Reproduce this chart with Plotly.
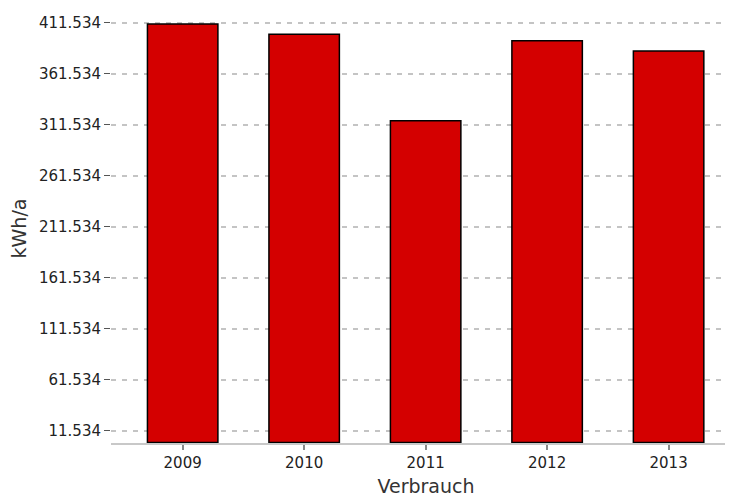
import plotly.graph_objects as go

years = ["2009", "2010", "2011", "2012", "2013"]
verbrauch = [410300, 400200, 315400, 393900, 383800]
tick_vals = [11534, 61534, 111534, 161534, 211534, 261534, 311534, 361534, 411534]

fig = go.Figure()
fig.add_trace(go.Bar(
    x=years, y=verbrauch,
    marker=dict(color="#d40000", line=dict(color="#000000", width=1.5)),
    width=0.58,
))

fig.update_layout(
    width=733, height=501,
    margin=dict(l=103, r=0, t=6, b=66),
    paper_bgcolor="white", plot_bgcolor="white",
    separators=",.",
    font=dict(family="DejaVu Sans, Verdana, sans-serif", size=15, color="#222222"),
    showlegend=False,
    xaxis=dict(
        title=dict(text="Verbrauch", font=dict(size=19, color="#333333"), standoff=9),
        range=[-0.59, 4.596],
        showline=True, linecolor="#c8c8c8", linewidth=2,
        ticks="outside", ticklen=5, tickcolor="#888888", tickwidth=1.5,
        showgrid=False,
    ),
    yaxis=dict(
        title=dict(text="kWh/a", font=dict(size=19, color="#333333"), standoff=7),
        range=[-500, 420000],
        tickvals=tick_vals, tickformat=",d",
        ticks="outside", ticklen=6, tickcolor="#555555", tickwidth=1,
        showgrid=True, gridcolor="#c4c4c4", griddash="5px,6px", gridwidth=1.5,
        zeroline=False, showline=False,
    ),
)

fig.write_html("out.html")
